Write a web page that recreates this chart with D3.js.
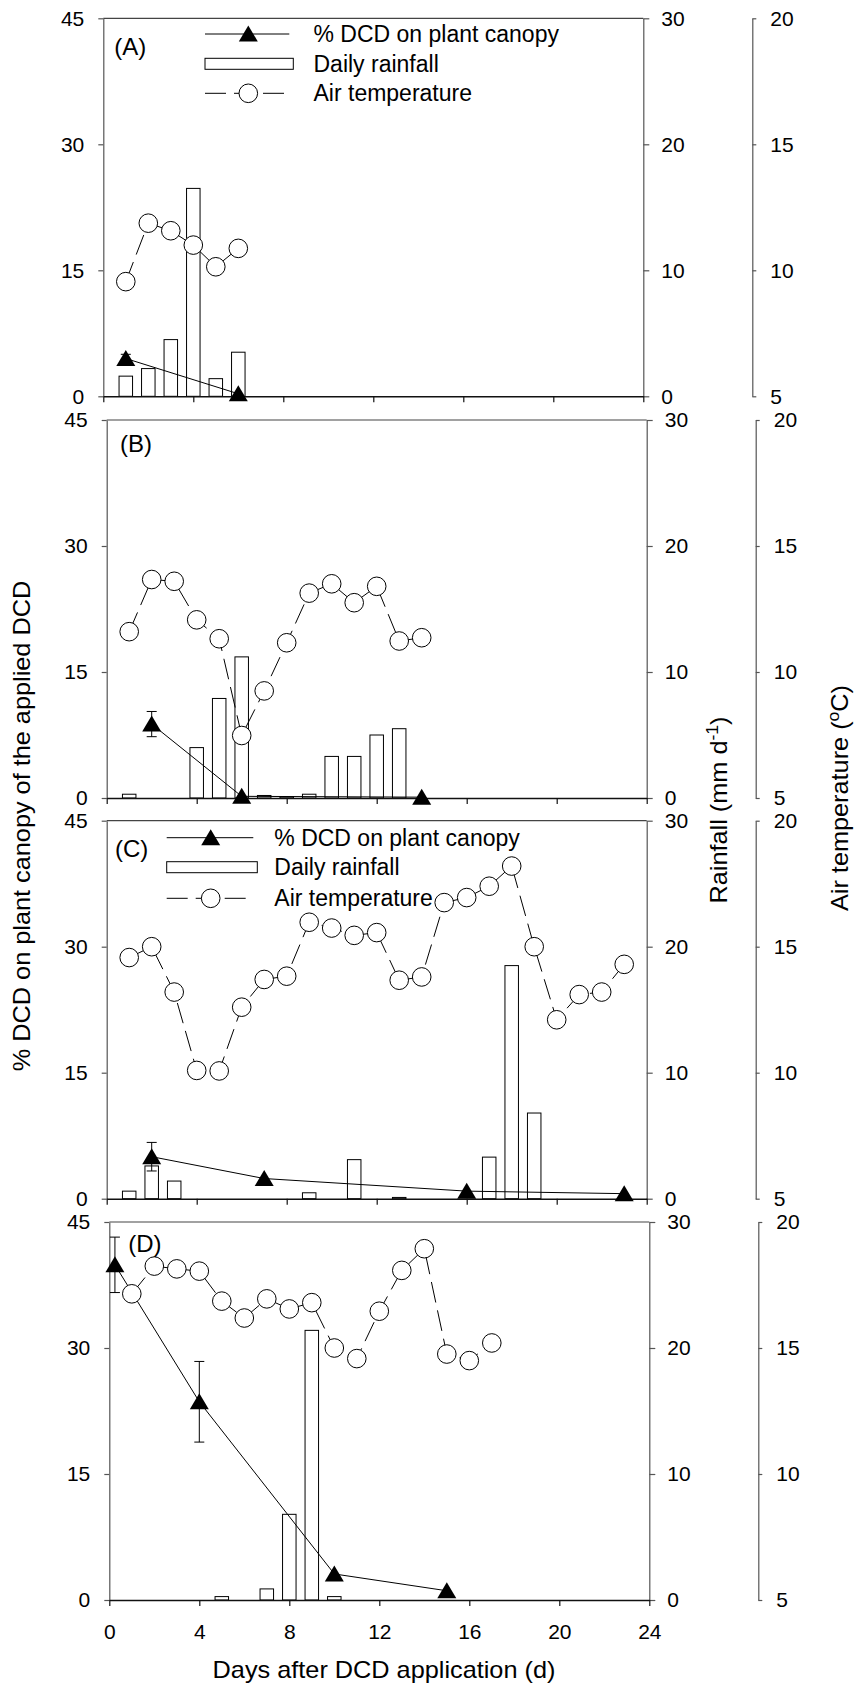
<!DOCTYPE html>
<html>
<head><title>DCD on plant canopy, rainfall and air temperature</title>
<style>
  body { margin:0; background:#fff; }
  text { font-family:"Liberation Sans", Arial, Helvetica, sans-serif; }
</style>
</head>
<body>
<svg id="chart" width="855" height="1688"></svg>
<script src="https://d3js.org/d3.v7.min.js"></script>
<script>

// ---- data ----
// panel A
let aRainDay = [1, 2, 3, 4, 5, 6];
let aRain    = [1.6, 2.2, 4.5, 16.5, 1.4, 3.5];
let aTempDay = [1, 2, 3, 4, 5, 6];
let aTemp    = [9.55, 11.87, 11.57, 11.0, 10.14, 10.87];
let aDcdDay  = [1, 6];
let aDcd     = [4.5, 0.3];
let aDcdErr  = [0.5, 0];

// panel B
let bRainDay = [1, 4, 5, 6, 7, 8, 9, 10, 11, 12, 13];
let bRain    = [0.3, 4.0, 7.9, 11.2, 0.2, 0.1, 0.3, 3.3, 3.3, 5.0, 5.5];
let bTempDay = [1, 2, 3, 4, 5, 6, 7, 8, 9, 10, 11, 12, 13, 14];
let bTemp    = [11.6, 13.67, 13.6, 12.07, 11.32, 7.48, 9.25, 11.16, 13.13, 13.5, 12.75, 13.4, 11.23, 11.36];
let bDcdDay  = [2, 6, 14];
let bDcd     = [8.8, 0.2, 0.1];
let bDcdErr  = [1.5, 0, 0];

// panel C
let cRainDay = [1, 2, 3, 9, 11, 13, 17, 18, 19];
let cRain    = [0.6, 2.6, 1.4, 0.47, 3.1, 0.1, 3.3, 18.5, 6.8];
let cTempDay = [1, 2, 3, 4, 5, 6, 7, 8, 9, 10, 11, 12, 13, 14, 15, 16, 17, 18, 19, 20, 21, 22, 23];
let cTemp    = [14.57, 15.0, 13.2, 10.09, 10.07, 12.6, 13.7, 13.83, 15.97, 15.74, 15.45, 15.56, 13.67, 13.8,
                16.75, 16.95, 17.4, 18.2, 15.0, 12.1, 13.1, 13.2, 14.3];
let cDcdDay  = [2, 7, 16, 23];
let cDcd     = [5.0, 2.4, 0.9, 0.6];
let cDcdErr  = [1.7, 0, 0, 0];

// panel D
let dRainDay = [5, 7, 8, 9, 10];
let dRain    = [0.27, 0.88, 6.8, 21.4, 0.27];
let dTempDay = [1, 2, 3, 4, 5, 6, 7, 8, 9, 10, 11, 12, 13, 14, 15, 16, 17];
let dTemp    = [17.15, 18.25, 18.14, 18.05, 16.86, 16.19, 16.95, 16.55, 16.8, 15.0, 14.58, 16.46, 18.08, 18.94, 14.76, 14.5, 15.2];
let dDcdDay  = [0.25, 4, 10, 15];
let dDcd     = [39.9, 23.6, 3.1, 1.1];
let dDcdErr  = [3.3, 4.8, 0, 0];

// axis ticks
let dayTicks  = [0, 4, 8, 12, 16, 20, 24];
let dcdTicks  = [0, 15, 30, 45];
let rainTicks = [0, 10, 20, 30];
let tempTicks = [5, 10, 15, 20];

let legendLabels = ['% DCD on plant canopy', 'Daily rainfall', 'Air temperature'];

// ---- layout ----
let W = 540, H = 378;
let font = '"Liberation Sans", Arial, Helvetica, sans-serif';

let panels = [
  { name:'(A)', x0:103.3, y0:18.3, lab:[11, 36.7], xLabels:false,
    rainDay:aRainDay, rain:aRain, tempDay:aTempDay, temp:aTemp, dcdDay:aDcdDay, dcd:aDcd, err:aDcdErr,
    legend:{ x1:101.7, x2:186, mx:145, tx:210.2, rows:[15.7, 45.5, 75] } },
  { name:'(B)', x0:106.7, y0:420, lab:[13.3, 31.7], xLabels:false,
    rainDay:bRainDay, rain:bRain, tempDay:bTempDay, temp:bTemp, dcdDay:bDcdDay, dcd:bDcd, err:bDcdErr },
  { name:'(C)', x0:106.7, y0:820.7, lab:[8.3, 36], xLabels:false,
    rainDay:cRainDay, rain:cRain, tempDay:cTempDay, temp:cTemp, dcdDay:cDcdDay, dcd:cDcd, err:cDcdErr,
    legend:{ x1:60, x2:146.6, mx:104, tx:167.6, rows:[17, 46.5, 77.6] } },
  { name:'(D)', x0:109.3, y0:1222, lab:[19, 29.7], xLabels:true,
    rainDay:dRainDay, rain:dRain, tempDay:dTempDay, temp:dTemp, dcdDay:dDcdDay, dcd:dDcd, err:dDcdErr }
];

let svg = d3.select('#chart');

function translate(x, y) { return 'translate(' + x + ',' + y + ')'; }

function triangle(sel) {
  return sel.append('path').attr('d', 'M0,-8.5L9.5,7.5L-9.5,7.5Z').attr('fill', '#000');
}

function styleAxis(g, color) {
  g.attr('font-family', font).attr('font-size', 21);
  g.selectAll('.domain, .tick line').attr('stroke', color).attr('stroke-width', 1.2);
  g.selectAll('.tick text').attr('fill', '#000');
}

panels.forEach(p => {
  let g = svg.append('g').attr('transform', translate(p.x0, p.y0));

  let x = d3.scaleLinear().domain([0, 24]).range([0, W]);
  let y = d3.scaleLinear().domain([0, 45]).range([H, 0]);
  let yRain = d3.scaleLinear().domain([0, 30]).range([H, 0]);
  let yTemp = d3.scaleLinear().domain([5, 20]).range([H, 0]);

  // frame: top line
  g.append('line').attr('x1', 0).attr('x2', W).attr('y1', 0).attr('y2', 0)
    .attr('stroke', '#444').attr('stroke-width', 1.2);

  // axes
  let left = g.append('g')
    .call(d3.axisLeft(y).tickValues(dcdTicks).tickSize(5).tickSizeOuter(0).tickPadding(14));
  styleAxis(left, '#555');

  let right = g.append('g').attr('transform', translate(W, 0))
    .call(d3.axisRight(yRain).tickValues(rainTicks).tickSize(6).tickSizeOuter(0).tickPadding(12));
  styleAxis(right, '#555');

  let temp = g.append('g').attr('transform', translate(649, 0))
    .call(d3.axisRight(yTemp).tickValues(tempTicks).tickSize(4).tickSizeOuter(0).tickPadding(14));
  styleAxis(temp, '#555');

  // bars (daily rainfall)
  let bw = x(0.6) - x(0);
  g.append('g').selectAll('rect')
    .data(d3.zip(p.rainDay, p.rain))
    .join('rect')
      .attr('x', d => x(d[0]) - bw / 2)
      .attr('width', bw)
      .attr('y', d => yRain(d[1]))
      .attr('height', d => H - yRain(d[1]))
      .attr('fill', '#fff')
      .attr('stroke', '#000')
      .attr('stroke-width', 1);

  let bottom = g.append('g').attr('transform', translate(0, H))
    .call(d3.axisBottom(x).tickValues(dayTicks).tickSize(6).tickSizeOuter(0).tickPadding(18)
      .tickFormat(p.xLabels ? d3.format('d') : ''));
  styleAxis(bottom, '#111');
  bottom.select('.domain').attr('stroke-width', 1.4);

  // % DCD on plant canopy
  let dcd = d3.zip(p.dcdDay, p.dcd, p.err);
  g.append('path')
    .attr('d', d3.line().x(d => x(d[0])).y(d => y(d[1]))(dcd))
    .attr('fill', 'none').attr('stroke', '#000').attr('stroke-width', 1);

  let eb = g.append('g').selectAll('g').data(dcd.filter(d => d[2] > 0)).join('g');
  eb.append('line').attr('x1', d => x(d[0])).attr('x2', d => x(d[0]))
    .attr('y1', d => y(d[1] + d[2])).attr('y2', d => y(d[1] - d[2]));
  eb.append('line').attr('x1', d => x(d[0]) - 5).attr('x2', d => x(d[0]) + 5)
    .attr('y1', d => y(d[1] + d[2])).attr('y2', d => y(d[1] + d[2]));
  eb.append('line').attr('x1', d => x(d[0]) - 5).attr('x2', d => x(d[0]) + 5)
    .attr('y1', d => y(d[1] - d[2])).attr('y2', d => y(d[1] - d[2]));
  eb.selectAll('line').attr('stroke', '#000').attr('stroke-width', 1);

  g.append('g').selectAll('g').data(dcd).join('g')
    .attr('transform', d => translate(x(d[0]), y(d[1])))
    .call(triangle);

  // air temperature
  let tdata = d3.zip(p.tempDay, p.temp);
  g.append('path')
    .attr('d', d3.line().x(d => x(d[0])).y(d => yTemp(d[1]))(tdata))
    .attr('fill', 'none').attr('stroke', '#000').attr('stroke-width', 1)
    .attr('stroke-dasharray', '21 8');
  g.append('g').selectAll('circle').data(tdata).join('circle')
    .attr('cx', d => x(d[0])).attr('cy', d => yTemp(d[1])).attr('r', 9.3)
    .attr('fill', '#fff').attr('stroke', '#000').attr('stroke-width', 1);

  // panel label
  g.append('text').attr('x', p.lab[0]).attr('y', p.lab[1])
    .attr('font-size', 24).text(p.name);

  // legend
  if (p.legend) {
    let L = p.legend;
    let lg = g.append('g');
    lg.append('line').attr('x1', L.x1).attr('x2', L.x2).attr('y1', L.rows[0]).attr('y2', L.rows[0])
      .attr('stroke', '#000').attr('stroke-width', 1);
    lg.append('g').attr('transform', translate(L.mx, L.rows[0])).call(triangle);
    lg.append('rect').attr('x', L.x1).attr('width', L.x2 - L.x1 + 4)
      .attr('y', L.rows[1] - 5.5).attr('height', 11)
      .attr('fill', '#fff').attr('stroke', '#000').attr('stroke-width', 1);
    lg.append('line').attr('x1', L.x1).attr('x2', L.x2).attr('y1', L.rows[2]).attr('y2', L.rows[2])
      .attr('stroke', '#000').attr('stroke-width', 1).attr('stroke-dasharray', '21 8');
    lg.append('circle').attr('cx', L.mx).attr('cy', L.rows[2]).attr('r', 9.3)
      .attr('fill', '#fff').attr('stroke', '#000').attr('stroke-width', 1);
    lg.selectAll('text.lab').data(legendLabels).join('text')
      .attr('x', L.tx).attr('y', (d, i) => L.rows[i] + 8)
      .attr('font-size', 23).text(d => d);
  }
});

// axis titles
let t1 = svg.append('text').attr('transform', 'translate(30,826) rotate(-90) scale(1.1,1)')
  .attr('text-anchor', 'middle').attr('font-size', 23)
  .text('% DCD on plant canopy of the applied DCD');

let t2 = svg.append('text').attr('transform', 'translate(727,810) rotate(-90) scale(1.1,1)')
  .attr('text-anchor', 'middle').attr('font-size', 23);
t2.append('tspan').text('Rainfall (mm d');
t2.append('tspan').attr('font-size', 16).attr('dy', -9).text('-1');
t2.append('tspan').attr('dy', 9).text(')');

let t3 = svg.append('text').attr('transform', 'translate(848,798) rotate(-90) scale(1.1,1)')
  .attr('text-anchor', 'middle').attr('font-size', 23);
t3.append('tspan').text('Air temperature (');
t3.append('tspan').attr('font-size', 16).attr('dy', -9).text('o');
t3.append('tspan').attr('dy', 9).text('C)');

svg.append('text').attr('transform', 'translate(384,1678) scale(1.1,1)')
  .attr('text-anchor', 'middle').attr('font-size', 23)
  .text('Days after DCD application (d)');

</script>
</body>
</html>
